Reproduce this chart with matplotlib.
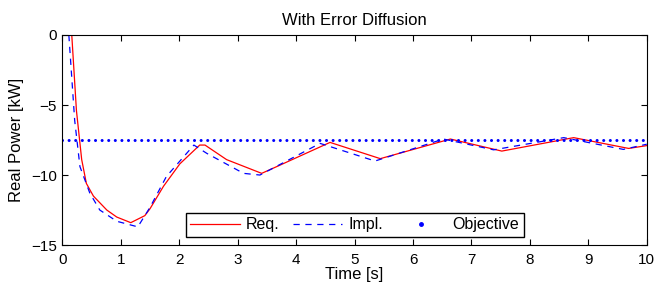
import matplotlib
matplotlib.use("Agg")
import matplotlib.pyplot as plt
from matplotlib.lines import Line2D

plt.rcParams['font.family'] = ['Liberation Sans', 'DejaVu Sans']
plt.rcParams['font.size'] = 11

# requested power (red, solid)
req_t = [0.16, 0.24, 0.33, 0.41, 0.53, 0.76, 0.93, 1.17, 1.41, 1.50, 1.73, 2.01,
         2.35, 2.44, 2.81, 3.41, 3.72, 4.58, 5.44, 6.64, 7.52, 8.75, 9.69, 10.0]
req_p = [0.0, -5.4, -8.9, -10.6, -11.5, -12.5, -13.0, -13.4, -12.9, -12.4, -10.8, -9.2,
         -7.86, -7.86, -8.9, -9.88, -9.3, -7.67, -8.83, -7.43, -8.29, -7.33, -8.1, -7.9]

# implemented power (blue, dashed)
impl_t = [0.11, 0.21, 0.30, 0.47, 0.64, 0.93, 1.29, 1.50, 1.78, 2.25, 2.47, 3.10,
          3.38, 4.41, 5.35, 6.52, 7.38, 8.58, 9.60, 10.0]
impl_p = [0.0, -6.1, -9.4, -11.3, -12.5, -13.3, -13.7, -12.3, -10.1, -7.86, -8.45, -9.88,
          -10.0, -7.74, -9.0, -7.43, -8.2, -7.33, -8.17, -7.8]

# objective
obj_t = [0, 10]
obj_p = [-7.5, -7.5]

dash = (0, (5, 4.5))

fig = plt.figure(figsize=(6.64, 2.89), dpi=100)
ax = fig.add_axes([0.094, 0.152, 0.880, 0.727])

ax.plot(req_t, req_p, color='red', lw=0.9)
ax.plot(impl_t, impl_p, color='blue', lw=0.9, linestyle=dash)
ax.plot(obj_t, obj_p, color='blue', lw=2.2, linestyle=(0, (0.01, 2.15)),
        dash_capstyle='round')

ax.set_xlim(0, 10)
ax.set_ylim(-15, 0)
ax.set_xticks(range(0, 11))
ax.set_yticks([-15, -10, -5, 0])
ax.set_yticklabels(['\u221215', '\u221210', '\u22125', '0'])
ax.tick_params(direction='in', top=True, right=True, length=4, width=0.8)
ax.tick_params(axis='x', pad=6)
ax.tick_params(axis='y', pad=4)
ax.set_title("With Error Diffusion", fontsize=12, pad=7)
ax.set_xlabel("Time [s]", fontsize=12, labelpad=0)
ax.set_ylabel("Real Power [kW]", fontsize=12, labelpad=5)

handles = [Line2D([], [], color='red', lw=0.9),
           Line2D([], [], color='blue', lw=0.9, linestyle=dash),
           Line2D([], [], color='blue', lw=0, marker='.', markersize=5)]
ax.legend(handles, ['Req.', 'Impl.', 'Objective'], loc='lower center', ncol=3,
          fancybox=False, edgecolor='black', framealpha=1, borderaxespad=0.5,
          handlelength=3.1, handletextpad=0.4, columnspacing=0.8, borderpad=0.3,
          fontsize=11.5)

fig.savefig("out.png", dpi=100)
